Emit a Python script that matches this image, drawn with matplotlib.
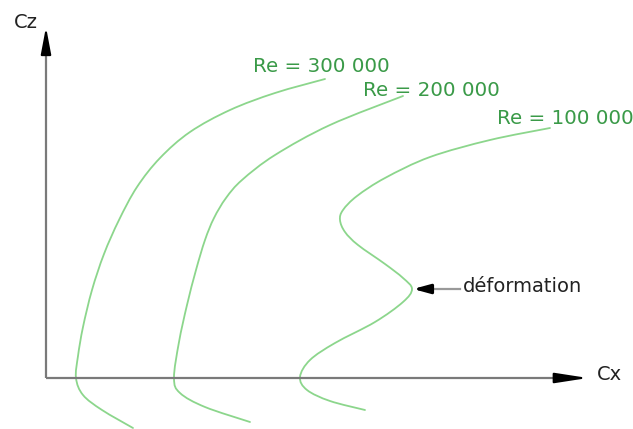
import matplotlib
matplotlib.use("Agg")
import matplotlib.pyplot as plt
from matplotlib.path import Path
from matplotlib.patches import PathPatch

# Data (Cx, Cz), origin at the axes crossing
re_labels = ["Re = 300 000", "Re = 200 000", "Re = 100 000"]

cx_300 = [279, 229, 184, 144, 114, 91, 73, 58, 46, 37, 32, 30, 37, 56, 87]
cz_300 = [299, 285, 268, 246, 220, 191, 158, 124, 88, 51, 22, 0, -17, -32, -50]

cx_200 = [357, 284, 229, 196, 180, 168, 159, 150, 141, 133, 128, 134, 159, 204]
cz_200 = [282, 253, 223, 198, 180, 160, 138, 108, 73, 36, 0, -15, -29, -44]

cx_100 = [504, 444, 384, 339, 311, 297, 294, 299, 312, 339, 357, 366, 357, 329, 289, 264, 254, 261, 284, 319]
cz_100 = [250, 238, 221, 200, 182, 168, 158, 146, 133, 114, 100, 89, 76, 56, 35, 18, 1, -12, -23, -32]

label_pos_x = [207, 317, 451]
label_pos_y = [311, 288, 260]

deform_point = (367, 89)
deform_text = "déformation"

fig = plt.figure(figsize=(6.33, 4.29), dpi=100)
fig.patch.set_facecolor("white")
ax = fig.add_axes([0, 0, 1, 1])
ax.set_xlim(-46, 587)
ax.set_ylim(-51, 378)
ax.axis("off")

curve_color = "#8cd68c"
text_color = "#3a9a48"


def smooth_path(xs, ys):
    """Catmull-Rom style cubic Bezier path through the given points."""
    pts = list(zip(xs, ys))
    n = len(pts)
    verts = [pts[0]]
    codes = [Path.MOVETO]
    for i in range(n - 1):
        p0 = pts[i - 1] if i > 0 else pts[i]
        p1 = pts[i]
        p2 = pts[i + 1]
        p3 = pts[i + 2] if i + 2 < n else pts[i + 1]
        c1 = (p1[0] + (p2[0] - p0[0]) / 6, p1[1] + (p2[1] - p0[1]) / 6)
        c2 = (p2[0] - (p3[0] - p1[0]) / 6, p2[1] - (p3[1] - p1[1]) / 6)
        verts += [c1, c2, p2]
        codes += [Path.CURVE4] * 3
    return Path(verts, codes)


for xs, ys in [(cx_300, cz_300), (cx_200, cz_200), (cx_100, cz_100)]:
    ax.add_patch(PathPatch(smooth_path(xs, ys), fill=False, edgecolor=curve_color,
                           lw=1.3, capstyle="round", clip_on=False))

for lab, x, y in zip(re_labels, label_pos_x, label_pos_y):
    ax.text(x, y, lab, color=text_color, fontsize=14.3, family="DejaVu Sans",
            ha="left", va="center")

# Axes lines
axis_gray = "#7a7a7a"
ax.plot([0, 0], [0, 340], color=axis_gray, lw=1.6, solid_capstyle="butt")
ax.plot([0, 528], [0, 0], color=axis_gray, lw=1.6, solid_capstyle="butt")
ax.annotate("", xy=(0, 351), xytext=(0, 336),
            arrowprops=dict(arrowstyle="-|>,head_length=0.9,head_width=0.17",
                            color="black", lw=1.5, mutation_scale=18,
                            shrinkA=0, shrinkB=0))
ax.annotate("", xy=(542, 0), xytext=(522, 0),
            arrowprops=dict(arrowstyle="-|>,head_length=1.1,head_width=0.17",
                            color="black", lw=1.5, mutation_scale=18,
                            shrinkA=0, shrinkB=0))
ax.text(-20, 356, "Cz", fontsize=14, color="#222222", family="DejaVu Sans",
        ha="center", va="center")
ax.text(551, 3, "Cx", fontsize=14, color="#222222", family="DejaVu Sans",
        ha="left", va="center")

# Deformation annotation
ax.plot([deform_point[0] + 18, deform_point[0] + 47], [deform_point[1]] * 2,
        color="#999999", lw=1.6)
ax.annotate("", xy=deform_point, xytext=(deform_point[0] + 19, deform_point[1]),
            arrowprops=dict(arrowstyle="-|>,head_length=0.55,head_width=0.15",
                            color="black", lw=2.2, mutation_scale=18,
                            shrinkA=0, shrinkB=0))
ax.text(deform_point[0] + 50, deform_point[1] + 3, deform_text, fontsize=14,
        color="#222222", family="DejaVu Sans", ha="left", va="center")

fig.savefig("out.png", dpi=100, facecolor="white")
